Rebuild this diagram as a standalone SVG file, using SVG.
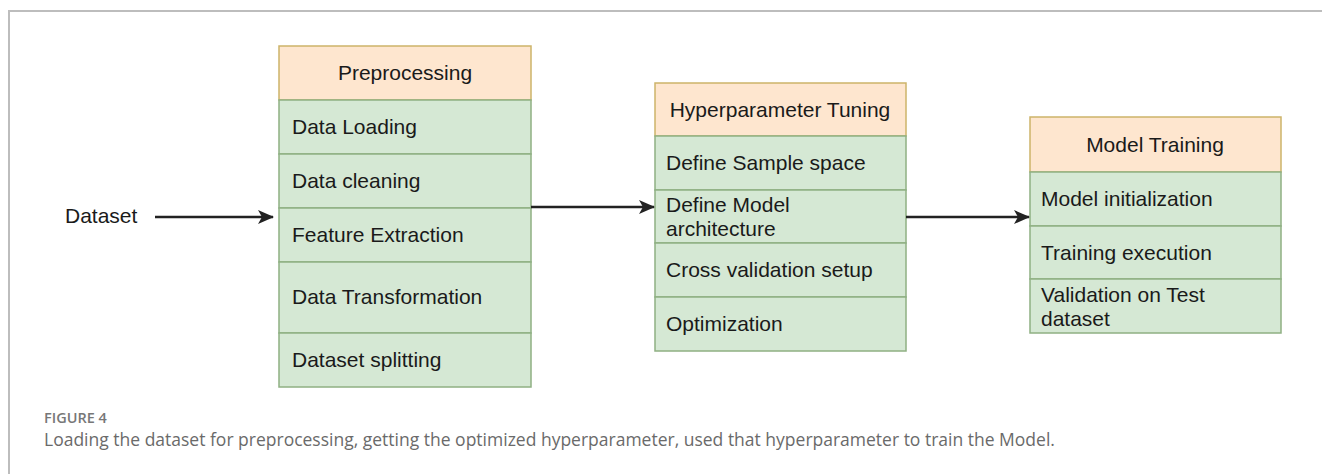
<svg xmlns="http://www.w3.org/2000/svg" width="1322" height="474" viewBox="0 0 1322 474">
<style>
.hdr{fill:#fee6cf;stroke:#cdb46a;stroke-width:1.5}
.row{fill:#d5e8d4;stroke:#8fb083;stroke-width:1.5}
.t{font-family:"Liberation Sans",Arial,sans-serif;font-size:21px;fill:#1a1a1a}
.c{text-anchor:middle}
.conn{stroke:#222;stroke-width:2.5;fill:none}
.frame{stroke:#bdbdbd;stroke-width:2;fill:none}
.fig{font-family:"Open Sans",sans-serif;font-size:14.5px;fill:#777;font-weight:600}
.cap{font-family:"Open Sans",sans-serif;font-size:17.5px;fill:#6a6a6a}
</style>
<defs>
<marker id="arr" markerUnits="userSpaceOnUse" markerWidth="16" markerHeight="14" refX="15" refY="7" orient="auto">
<path d="M0,0 L16,7 L0,14 L4,7 Z" fill="#222"/>
</marker>
</defs>
<rect width="1322" height="474" fill="#fff"/>
<path class="frame" d="M9,474 V11 H1322"/>

<g id="dataset">
<text class="t" x="65" y="223">Dataset</text>
</g>

<g id="preprocessing">
<rect class="hdr" x="279" y="46" width="252" height="54"/>
<rect class="row" x="279" y="100" width="252" height="54"/>
<rect class="row" x="279" y="154" width="252" height="54"/>
<rect class="row" x="279" y="208" width="252" height="54"/>
<rect class="row" x="279" y="262" width="252" height="71"/>
<rect class="row" x="279" y="333" width="252" height="54"/>
<text class="t c" x="405" y="80">Preprocessing</text>
<text class="t" x="292" y="134">Data Loading</text>
<text class="t" x="292" y="188">Data cleaning</text>
<text class="t" x="292" y="242">Feature Extraction</text>
<text class="t" x="292" y="304">Data Transformation</text>
<text class="t" x="292" y="367">Dataset splitting</text>
</g>

<g id="hyperparameter">
<rect class="hdr" x="655" y="83" width="251" height="53"/>
<rect class="row" x="655" y="136" width="251" height="54"/>
<rect class="row" x="655" y="190" width="251" height="53"/>
<rect class="row" x="655" y="243" width="251" height="54"/>
<rect class="row" x="655" y="297" width="251" height="54"/>
<text class="t c" x="780" y="117">Hyperparameter Tuning</text>
<text class="t" x="666" y="170">Define Sample space</text>
<text class="t" x="666" y="212">Define Model</text>
<text class="t" x="666" y="236">architecture</text>
<text class="t" x="666" y="277">Cross validation setup</text>
<text class="t" x="666" y="331">Optimization</text>
</g>

<g id="modeltraining">
<rect class="hdr" x="1030" y="117" width="251" height="55"/>
<rect class="row" x="1030" y="172" width="251" height="54"/>
<rect class="row" x="1030" y="226" width="251" height="53"/>
<rect class="row" x="1030" y="279" width="251" height="54"/>
<text class="t c" x="1155" y="152">Model Training</text>
<text class="t" x="1041" y="206">Model initialization</text>
<text class="t" x="1041" y="260">Training execution</text>
<text class="t" x="1041" y="302">Validation on Test</text>
<text class="t" x="1041" y="326">dataset</text>
</g>

<g id="connectors">
<line class="conn" x1="155" y1="217" x2="273" y2="217" marker-end="url(#arr)"/>
<line class="conn" x1="531" y1="207" x2="654" y2="207" marker-end="url(#arr)"/>
<line class="conn" x1="906" y1="217" x2="1029" y2="217" marker-end="url(#arr)"/>
</g>

<g id="caption">
<text class="fig" x="44" y="423">FIGURE 4</text>
<text class="cap" x="44" y="446">Loading the dataset for preprocessing, getting the optimized hyperparameter, used that hyperparameter to train the Model.</text>
</g>
</svg>
